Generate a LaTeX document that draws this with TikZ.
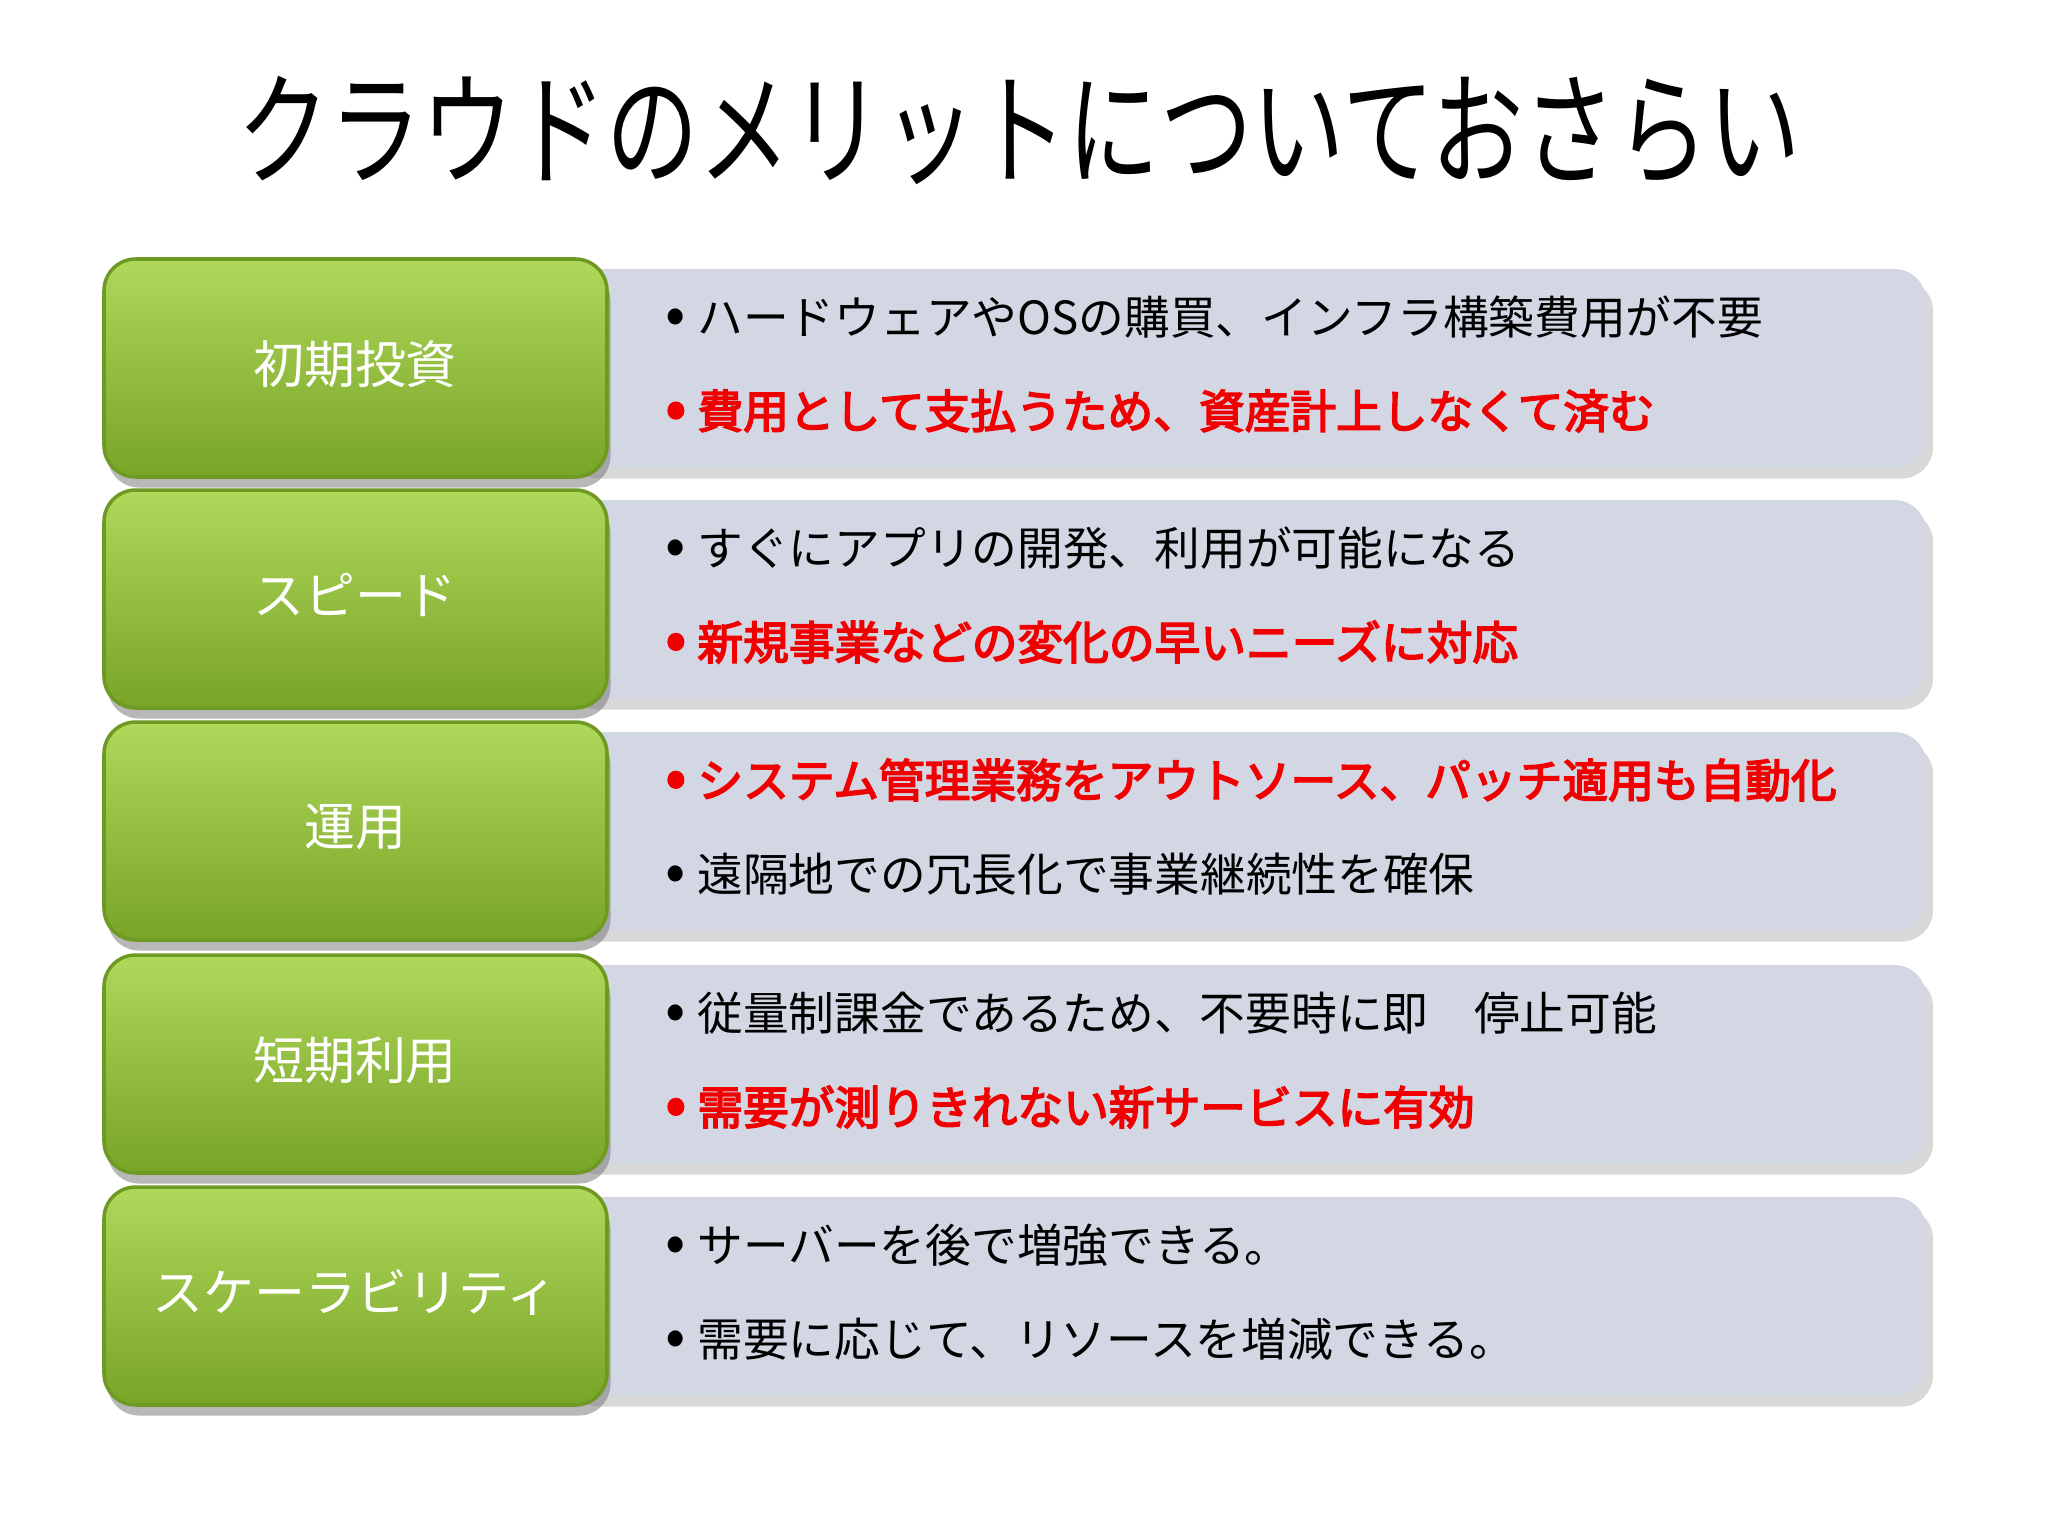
\documentclass[tikz,border=0pt]{standalone}
\usepackage{fontspec}
\setmainfont{Noto Sans CJK JP}
\newfontfamily\jpbold{Noto Sans CJK JP}[FakeBold=3.5]
\usetikzlibrary{shadows}
\definecolor{gtop}{HTML}{B0D85A}
\definecolor{gbot}{HTML}{78A428}
\definecolor{gbord}{HTML}{6E9A24}
\definecolor{graybg}{HTML}{D3D7E4}
\definecolor{redtxt}{HTML}{F00000}
\newcommand{\bul}{{\fontsize{17}{14}\selectfont •}\hspace{0.25em}}
\tikzset{
 greenbox/.style={rounded corners=9pt, top color=gtop, bottom color=gbot, draw=gbord, line width=1pt,
   drop shadow={shadow xshift=1pt, shadow yshift=-3pt, fill=black!55}},
 graybox/.style={rounded corners=9pt, fill=graybg, draw=none,
   drop shadow={shadow xshift=2pt, shadow yshift=-3pt, fill=black!30}},
 lbl/.style={text=white, font=\fontsize{14.5}{16}\selectfont},
 item/.style={anchor=west, font=\fontsize{13}{14}\selectfont, text=black, inner sep=0pt},
 reditem/.style={anchor=west, font=\jpbold\fontsize{13}{14}\selectfont, text=redtxt, inner sep=0pt}
}
\begin{document}
\begin{tikzpicture}[x=0.01cm,y=-0.01cm]
\useasboundingbox (0,0) rectangle (2048,1536);
\fill[white] (0,0) rectangle (2048,1536);
\node (title) at (1019,130) {\scalebox{0.75}[1]{\fontsize{35}{38}\selectfont クラウドのメリットについておさらい}};
\def\row#1#2#3#4#5#6#7{%
 \path[graybox] (560,#1+10) rectangle (1926,#1+209);
 \path[greenbox] (104,#1) rectangle (607,#1+218);
 \node[lbl] (l#2) at (355,#1+105) {#3};
 \node[#4] (a#2) at (665,#1+58) {\bul#5};
 \node[#6] (b#2) at (665,#1+152) {\bul#7};
}
\row{259}{1}{初期投資}{item}{ハードウェアやOSの購買、インフラ構築費用が不要}{reditem}{費用として支払うため、資産計上しなくて済む}
\row{490}{2}{スピード}{item}{すぐにアプリの開発、利用が可能になる}{reditem}{新規事業などの変化の早いニーズに対応}
\row{722}{3}{運用}{reditem}{システム管理業務をアウトソース、パッチ適用も自動化}{item}{遠隔地での冗長化で事業継続性を確保}
\row{955}{4}{短期利用}{item}{従量制課金であるため、不要時に即　停止可能}{reditem}{需要が測りきれない新サービスに有効}
\row{1187}{5}{スケーラビリティ}{item}{サーバーを後で増強できる。}{item}{需要に応じて、リソースを増減できる。}
\end{tikzpicture}
\end{document}
